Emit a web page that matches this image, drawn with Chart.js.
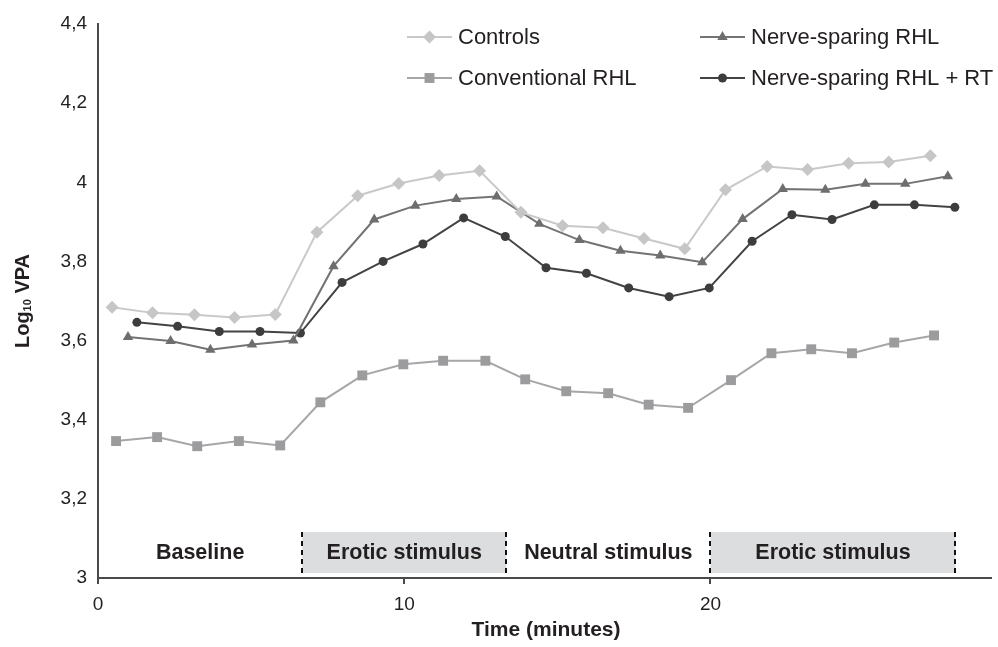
<!DOCTYPE html>
<html>
<head>
<meta charset="utf-8">
<script src="https://cdn.jsdelivr.net/npm/chart.js@4.4.0/dist/chart.umd.min.js"></script>
<style>
body { margin: 0; background: #fff; }
#wrap { width: 998px; height: 647px; position: relative; }
</style>
</head>
<body>
<div id="wrap"><canvas id="vpaChart"></canvas></div>
<script>
// time (minutes) and log10 VPA per group
const controlsX = [0.46, 1.78, 3.15, 4.46, 5.79, 7.15, 8.48, 9.82, 11.14, 12.46, 13.81, 15.17, 16.49, 17.83, 19.16, 20.49, 21.85, 23.17, 24.51, 25.82, 27.18];
const controlsY = [3.684, 3.670, 3.665, 3.658, 3.666, 3.874, 3.966, 3.997, 4.017, 4.029, 3.924, 3.890, 3.885, 3.858, 3.832, 3.981, 4.040, 4.032, 4.048, 4.051, 4.067];

const conventionalX = [0.59, 1.93, 3.24, 4.60, 5.95, 7.26, 8.63, 9.97, 11.27, 12.65, 13.95, 15.29, 16.66, 17.98, 19.27, 20.67, 21.99, 23.29, 24.62, 26.00, 27.30];
const conventionalY = [3.346, 3.356, 3.333, 3.346, 3.335, 3.444, 3.512, 3.540, 3.549, 3.549, 3.502, 3.472, 3.467, 3.438, 3.430, 3.500, 3.568, 3.578, 3.568, 3.595, 3.613];

const nerveX = [0.98, 2.37, 3.67, 5.03, 6.38, 7.69, 9.02, 10.36, 11.70, 13.02, 14.41, 15.72, 17.06, 18.36, 19.73, 21.05, 22.36, 23.75, 25.06, 26.36, 27.75];
const nerveY = [3.609, 3.599, 3.577, 3.590, 3.600, 3.788, 3.906, 3.941, 3.958, 3.964, 3.895, 3.854, 3.827, 3.815, 3.798, 3.907, 3.983, 3.981, 3.996, 3.996, 4.015];

const nerveRtX = [1.27, 2.60, 3.96, 5.29, 6.61, 7.97, 9.31, 10.61, 11.94, 13.30, 14.63, 15.95, 17.33, 18.65, 19.96, 21.36, 22.66, 23.97, 25.35, 26.66, 27.98];
const nerveRtY = [3.646, 3.636, 3.623, 3.623, 3.619, 3.747, 3.800, 3.844, 3.910, 3.863, 3.784, 3.770, 3.733, 3.711, 3.733, 3.851, 3.918, 3.906, 3.943, 3.943, 3.937];

const xTicks = [0, 10, 20];
const xTickLabels = ['0', '10', '20'];
const yTicks = [3, 3.2, 3.4, 3.6, 3.8, 4, 4.2, 4.4];
const yTickLabels = ['3', '3,2', '3,4', '3,6', '3,8', '4', '4,2', '4,4'];

// stimulus phases along the time axis
const phaseNames = ['Baseline', 'Erotic stimulus', 'Neutral stimulus', 'Erotic stimulus'];
const phaseStart = [0, 6.67, 13.33, 20];
const phaseEnd = [6.67, 13.33, 20, 28];
const phaseShaded = [false, true, false, true];

const FONT = '"Liberation Sans", Arial, Helvetica, sans-serif';
const TEXT = '#231f20';
const AXIS = '#4a4a4a';

Chart.defaults.font.family = FONT;
Chart.defaults.color = TEXT;

function pts(xs, ys) {
    return xs.map((x, i) => ({ x: x, y: ys[i] }));
}

function drawMarker(ctx, style, x, y, r) {
    ctx.beginPath();
    if (style === 'rectRot') {
        ctx.moveTo(x, y - r); ctx.lineTo(x + r, y); ctx.lineTo(x, y + r); ctx.lineTo(x - r, y);
    } else if (style === 'rect') {
        const s = r * Math.SQRT1_2;
        ctx.rect(x - s, y - s, 2 * s, 2 * s);
    } else if (style === 'triangle') {
        ctx.moveTo(x, y - r);
        ctx.lineTo(x + r * 0.866, y + r * 0.5);
        ctx.lineTo(x - r * 0.866, y + r * 0.5);
    } else {
        ctx.arc(x, y, r, 0, Math.PI * 2);
    }
    ctx.closePath();
    ctx.fill();
}

const phasePlugin = {
    id: 'phases',
    beforeDatasetsDraw(chart) {
        const { ctx, scales: { x, y } } = chart;
        const bottom = y.getPixelForValue(yTicks[0]) - 5;
        const top = bottom - 41;
        ctx.save();
        phaseNames.forEach((name, i) => {
            const x0 = x.getPixelForValue(phaseStart[i]);
            const x1 = x.getPixelForValue(phaseEnd[i]);
            if (phaseShaded[i]) {
                ctx.fillStyle = '#dcdddf';
                ctx.fillRect(x0, top, x1 - x0, bottom - top);
            }
            ctx.fillStyle = TEXT;
            ctx.font = 'bold 21.5px ' + FONT;
            ctx.textAlign = 'center';
            ctx.textBaseline = 'middle';
            ctx.fillText(name, (x0 + x1) / 2, (top + bottom) / 2 + 1);
        });
        ctx.strokeStyle = '#111';
        ctx.lineWidth = 2;
        ctx.setLineDash([5, 4]);
        phaseEnd.forEach(t => {
            const px = Math.round(x.getPixelForValue(t));
            ctx.beginPath();
            ctx.moveTo(px, top);
            ctx.lineTo(px, bottom);
            ctx.stroke();
        });
        ctx.restore();
    }
};

const decorPlugin = {
    id: 'decor',
    afterDraw(chart) {
        const { ctx, chartArea } = chart;
        ctx.save();
        ctx.fillStyle = TEXT;

        // y title with subscript
        const big = 'bold 20px ' + FONT;
        const small = 'bold 11px ' + FONT;
        ctx.font = big;
        const wLog = ctx.measureText('Log').width;
        const wVpa = ctx.measureText(' VPA').width;
        ctx.font = small;
        const wSub = ctx.measureText('10').width;
        const total = wLog + wSub + wVpa;
        ctx.translate(23, (chartArea.top + chartArea.bottom) / 2);
        ctx.rotate(-Math.PI / 2);
        ctx.textBaseline = 'middle';
        ctx.textAlign = 'left';
        let cx = -total / 2;
        ctx.font = big;
        ctx.fillText('Log', cx, 0);
        cx += wLog;
        ctx.font = small;
        ctx.fillText('10', cx, 5);
        cx += wSub;
        ctx.font = big;
        ctx.fillText(' VPA', cx, 0);
        ctx.setTransform(1, 0, 0, 1, 0, 0);

        // x title
        ctx.font = 'bold 21px ' + FONT;
        ctx.textAlign = 'center';
        ctx.textBaseline = 'middle';
        ctx.fillText('Time (minutes)', 546, 630);

        // legend: two columns, two rows
        const cols = [407, 700];
        const rows = [37, 78];
        const slots = [[0, 0], [0, 1], [1, 0], [1, 1]];
        ctx.font = '22px ' + FONT;
        ctx.textAlign = 'left';
        chart.data.datasets.forEach((ds, i) => {
            const lx = cols[slots[i][0]];
            const ly = rows[slots[i][1]];
            ctx.strokeStyle = ds.borderColor;
            ctx.lineWidth = ds.borderWidth;
            ctx.beginPath();
            ctx.moveTo(lx, ly);
            ctx.lineTo(lx + 45, ly);
            ctx.stroke();
            ctx.fillStyle = ds.pointBackgroundColor;
            drawMarker(ctx, ds.pointStyle, lx + 22.5, ly, ds.pointRadius);
            ctx.fillStyle = TEXT;
            ctx.fillText(ds.label, lx + 51, ly + 1);
        });
        ctx.restore();
    }
};

new Chart(document.getElementById('vpaChart'), {
    type: 'line',
    data: {
        datasets: [
            {
                label: 'Controls',
                data: pts(controlsX, controlsY),
                borderColor: '#c9c9c9',
                borderWidth: 2,
                pointStyle: 'rectRot',
                pointRadius: 6.5,
                pointBackgroundColor: '#c6c6c6',
                pointBorderWidth: 0
            },
            {
                label: 'Conventional RHL',
                data: pts(conventionalX, conventionalY),
                borderColor: '#a6a6a8',
                borderWidth: 2,
                pointStyle: 'rect',
                pointRadius: 7,
                pointBackgroundColor: '#9c9c9e',
                pointBorderWidth: 0
            },
            {
                label: 'Nerve-sparing RHL',
                data: pts(nerveX, nerveY),
                borderColor: '#737373',
                borderWidth: 2,
                pointStyle: 'triangle',
                pointRadius: 6,
                pointBackgroundColor: '#6e6e6e',
                pointBorderWidth: 0
            },
            {
                label: 'Nerve-sparing RHL + RT',
                data: pts(nerveRtX, nerveRtY),
                borderColor: '#434343',
                borderWidth: 2,
                pointStyle: 'circle',
                pointRadius: 4.5,
                pointBackgroundColor: '#3d3d3d',
                pointBorderWidth: 0
            }
        ]
    },
    options: {
        responsive: true,
        maintainAspectRatio: false,
        animation: false,
        layout: { padding: { top: 24, right: 2, bottom: 0, left: 0 } },
        plugins: {
            legend: { display: false },
            tooltip: { enabled: false }
        },
        elements: { line: { tension: 0 } },
        scales: {
            x: {
                type: 'linear',
                min: 0,
                max: 29.16,
                afterBuildTicks: s => { s.ticks = xTicks.map(v => ({ value: v })); },
                afterFit: s => { s.height = 69; },
                ticks: {
                    font: { size: 19 },
                    color: TEXT,
                    padding: 9,
                    maxRotation: 0,
                    autoSkip: false,
                    callback: (v, i) => xTickLabels[i]
                },
                grid: { display: true, drawOnChartArea: false, drawTicks: true, tickLength: 6, color: AXIS, lineWidth: 2 },
                border: { display: true, color: AXIS, width: 2 }
            },
            y: {
                min: 3,
                max: 4.4,
                afterBuildTicks: s => { s.ticks = yTicks.map(v => ({ value: v })); },
                afterFit: s => { s.width = 98; },
                ticks: {
                    font: { size: 19 },
                    color: TEXT,
                    padding: 11,
                    callback: (v, i) => yTickLabels[i]
                },
                grid: { display: false, drawTicks: false },
                border: { display: true, color: AXIS, width: 2 }
            }
        }
    },
    plugins: [phasePlugin, decorPlugin]
});
</script>
</body>
</html>
